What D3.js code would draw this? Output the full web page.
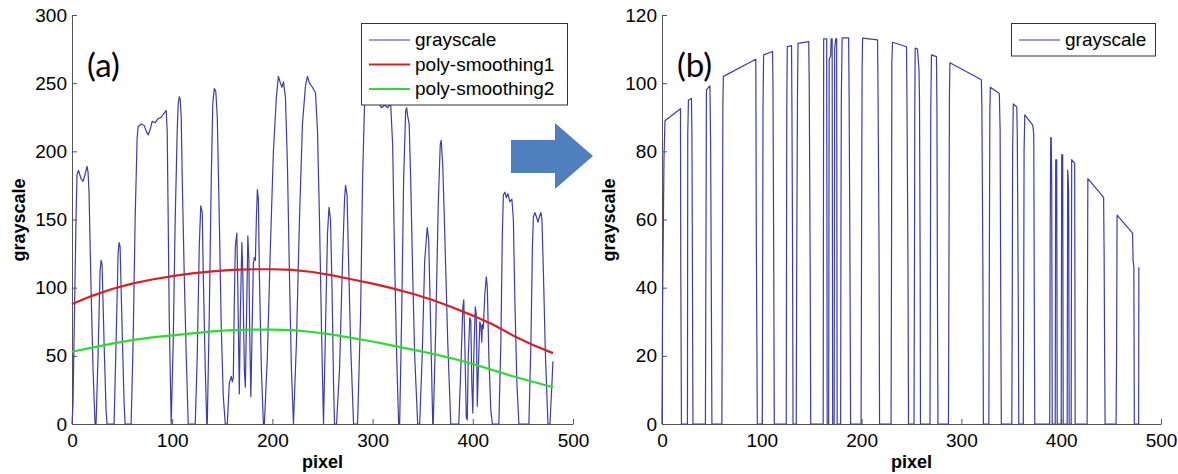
<!DOCTYPE html>
<html>
<head>
<meta charset="utf-8">
<script src="https://cdn.jsdelivr.net/npm/d3@7"></script>
<style>
  body { margin: 0; background: #fff; }
  svg { display: block; font-family: "Liberation Sans", Arial, sans-serif; }
  .axis path, .axis line { stroke: #555; }
  .axis text { font-size: 19px; fill: #000; font-family: "Liberation Sans", Arial, sans-serif; }
</style>
</head>
<body>
<div id="chart"></div>
<script>
// ticks
var xTicks = [0, 100, 200, 300, 400, 500];
var yTicksA = [0, 50, 100, 150, 200, 250, 300];
var yTicksB = [0, 20, 40, 60, 80, 100, 120];

var legendA = ["grayscale", "poly-smoothing1", "poly-smoothing2"];
var legendB = ["grayscale"];

// (a) raw grayscale profile, [pixel, value]
var grayA = [
  [0,0],[1,15],[2,60],[4,150],[5,183],[6.5,186],[9,180],[11,178],[13,183],[15,189],[16,185],[17,170],[19,100],[21,40],[23,0],
  [24,0],[26,50],[28,112],[29,120],[30,117],[32,60],[34,10],[35,0],
  [42,0],[44,60],[46,125],[47,133],[48,130],[50,70],[52,15],[53,0],
  [59,0],[61,60],[63,150],[65,210],[66,218],[69,220],[72,219],[74,215],[76,212],[78,216],[80,222],[83,221],[86,224],[89,225],[92,228],[94,230],[95,215],[96,150],[97,80],[99,0],
  [101,60],[103,150],[105,215],[106,235],[107,240],[108,238],[109,225],[110,180],[112,110],[114,50],[116,0],
  [123,0],[125,50],[127,130],[128.5,160],[130,155],[131,110],[133,40],[134.5,0],
  [135,0],[137,80],[139,180],[140.5,235],[142,246],[143.5,244],[145,225],[147,150],[149,70],[151,20],[153,0],
  [155,0],[157,30],[159,35],[160,31],[161,34],[162,90],[163,130],[164.5,140],[165.5,100],[167,22],[168,80],[169.5,133],[170.5,110],[172,40],[173,27],[174,70],[175.5,138],[176.5,120],[177.5,60],[178.5,20],[179.5,60],[181,118],[182,122],[183,120],[184,150],[185,172],[186,165],[187,110],[189,40],[191,0],
  [192,0],[195,50],[198,130],[201,200],[204,240],[206,255],[208,250],[209.5,247],[211,251],[213,240],[215,190],[217,110],[219,40],[221,0],
  [224,60],[227,150],[230,220],[233,248],[235,255],[237,250],[240,247],[243,243],[245,215],[247,150],[249,70],[251,0],
  [253,70],[255,140],[256.5,159],[258,150],[259.5,100],[261,30],[262,0],
  [264,0],[267,40],[270,120],[272,165],[273,175],[274.5,168],[276,120],[278,60],[281,0],
  [285,0],[288,80],[290,180],[292,235],[294,242],[298,244],[302,240],[306,235],[309,232],[312,234],[315,232],[318,235],[320,205],[322,120],[324,50],[326,0],
  [327,0],[329,80],[331,180],[333,230],[334,232],[335,226],[336.5,220],[338,180],[340,110],[342,50],[345,0],
  [347,0],[349.5,50],[352,120],[354.5,144],[356,135],[358,70],[360,0],
  [360.5,0],[363,70],[365.5,160],[367.5,205],[368.5,208],[370,190],[372,140],[375,60],[378,0],
  [386,0],[388,40],[390,85],[391,91],[392,60],[393.5,5],[394.5,3],[395.5,50],[397,78],[398,76],[399,30],[400,8],[401,50],[402.5,86],[403.5,80],[404.5,13],[405.5,40],[407,75],[408,72],[409,60],[409.5,73],[410.5,70],[412,95],[413.5,108],[414.5,100],[416,50],[418,10],[419.5,0],
  [426,0],[428,60],[429.5,140],[430.5,168],[432,170],[433.5,166],[435,169],[437,163],[439,165],[440.5,150],[442,90],[444,30],[446,0],
  [456,0],[458,60],[459.5,130],[460.5,152],[462,155],[463.5,152],[465,148],[466.5,152],[468,155],[469,150],[470.5,110],[472.5,50],[475,0],
  [477,0],[479,30],[480,46]
];

// polynomial smoothing curves
var poly1 = [
  [0,88],[20,94],[40,99],[60,103],[80,106],[100,108.5],[120,110.5],[140,112],[160,113],[180,113.5],[200,113.5],
  [220,113],[240,111.5],[260,109],[280,106],[300,103],[320,99.5],[340,95.5],[360,91],[380,85.5],[400,79.5],
  [420,73],[440,65],[460,58],[480,52]
];
var poly2 = [
  [0,53],[20,56],[40,59],[60,61.5],[80,63.5],[100,65],[120,66.5],[140,68],[160,68.8],[180,69.2],[200,69.2],
  [220,68.8],[240,67.5],[260,65.5],[280,63],[300,60.5],[320,57.5],[340,54.5],[360,51.5],[380,48],[400,44],
  [420,39.5],[440,35],[460,31],[480,27]
];

// (b) thresholded profile
var grayB = [
  [0,0],[0.5,33],[2,78],[3,89],[18.5,92.5],[18.8,46],[19.5,0],
  [25.5,0],[25.8,85],[26.5,95],[29.5,95.5],[30,84],[30.5,45],[31,0],
  [43.5,0],[44,49],[44.5,98],[48,99.2],[48.7,83],[49.5,34],[50,0],
  [60,0],[60.5,43],[61,94],[61.5,102],[94,107],[94.5,55],[95.5,0],
  [100.5,0],[100.8,39],[101.2,92],[101.8,108.3],[110.8,109.3],[111.2,99],[112,45],[112.5,0],
  [124.5,0],[124.8,54],[125,92],[125.5,110.7],[129.8,111],[130.2,92],[130.8,52],[131.3,0],
  [134.5,0],[135,50],[135.8,99],[136.3,111.7],[147,112.2],[147.5,101],[148.5,45],[149,0],
  [161.5,0],[162,113],[165,113],[165.5,0],
  [167,0],[167.5,107],[169,108],[169.5,113],[170.5,113],[171,0],
  [172.5,0],[173,110],[174,113],[175,113],[175.5,0],
  [179,0],[179.3,57],[179.7,96],[180.5,113.3],[187,113.3],[187.5,96],[188.3,50],[189,0],
  [199.5,0],[200,60],[200.5,104],[201,113.2],[216,112.7],[216.5,96],[217.5,50],[218,0],
  [229.5,0],[230,50],[230.3,106],[231,112],[245,110.7],[245.5,93],[246.5,45],[247,0],
  [252.5,0],[253,50],[253.3,93],[253.7,110.3],[256,110],[257.5,104],[258,95],[258.7,45],[259,0],
  [268.5,0],[269,50],[269.3,92],[270,108.3],[275,107.8],[275.5,92],[276,38],[276.5,0],
  [287,0],[287.5,43],[288,96],[288.5,106],[320,101],[320.5,93.5],[321.5,47],[322,0],
  [327.5,0],[328,47],[328.5,92],[329,98.8],[338,97],[338.8,86],[339.5,30],[340,0],
  [350.5,0],[351,40],[351.3,79.5],[352,93.9],[355.5,93],[356,85],[357,35],[357.5,0],
  [362,0],[362.5,45],[362.8,80],[363.5,90.7],[371.5,87.7],[372.5,85],[373,40],[373.5,0],
  [388.5,0],[389,60],[389.5,84],[390,84],[390.5,70],[391,0],
  [394,0],[394.5,77.5],[395.5,77.5],[396,0],
  [400,0],[400.5,79],[401.5,79],[402,0],
  [406,0],[406.5,74.5],[407,72],[407.5,68],[408,0],
  [410,0],[410.5,77.6],[413.5,76.5],[414,0],
  [426,0],[426.3,34],[426.7,72],[442.5,66.5],[443,50],[443.5,22],[444,0],
  [455,0],[455.5,22],[456,61.3],[471.5,56],[472,48],[472.8,46],[473.3,0],
  [477.6,0],[477.8,46]
];

var width = 1178, height = 474;
var blue = "#3c3cae", red = "#d9201f", green = "#2ddc2d";

var svg = d3.select("#chart").append("svg")
    .attr("width", width)
    .attr("height", height);

function panel(left, right, yMax, yTicks, tag, ylabelX) {
    var x = d3.scaleLinear().domain([0, 500]).range([left, right]);
    var y = d3.scaleLinear().domain([0, yMax]).range([424, 15]);

    svg.append("g")
        .attr("class", "axis")
        .attr("transform", "translate(0,424)")
        .call(d3.axisBottom(x).tickValues(xTicks).tickSizeInner(-5).tickSizeOuter(0).tickPadding(10));

    svg.append("g")
        .attr("class", "axis")
        .attr("transform", "translate(" + left + ",0)")
        .call(d3.axisLeft(y).tickValues(yTicks).tickSizeInner(-5).tickSizeOuter(0).tickPadding(5));

    svg.append("text")
        .attr("x", (left + right) / 2)
        .attr("y", 468)
        .attr("text-anchor", "middle")
        .style("font-weight", "bold")
        .style("font-size", "18px")
        .text("pixel");

    svg.append("text")
        .attr("transform", "translate(" + ylabelX + ",220) rotate(-90)")
        .attr("text-anchor", "middle")
        .style("font-weight", "bold")
        .style("font-size", "18px")
        .text("grayscale");

    svg.append("text")
        .attr("x", left + 15)
        .attr("y", 77)
        .style("font-family", "Lato, 'Open Sans', sans-serif")
        .style("font-size", "33px")
        .text(tag);

    return { x: x, y: y };
}

function drawLine(p, data, color, w) {
    var line = d3.line()
        .x(function(d) { return p.x(d[0]); })
        .y(function(d) { return p.y(d[1]); });
    svg.append("path")
        .datum(data)
        .attr("d", line)
        .attr("fill", "none")
        .attr("stroke", color)
        .attr("stroke-width", w)
        .attr("stroke-linejoin", "round");
}

function legend(x0, y0, w, labels, colors, widths) {
    var g = svg.append("g");
    g.append("rect")
        .attr("x", x0 + 0.5).attr("y", y0 + 0.5)
        .attr("width", w).attr("height", labels.length * 24.5 + 8)
        .attr("fill", "#fff").attr("stroke", "#333");
    labels.forEach(function(l, i) {
        var cy = y0 + 17 + i * 24.5;
        g.append("line")
            .attr("x1", x0 + 8).attr("x2", x0 + 49)
            .attr("y1", cy).attr("y2", cy)
            .attr("stroke", colors[i]).attr("stroke-width", widths[i]);
        g.append("text")
            .attr("x", x0 + 54).attr("y", cy + 6)
            .style("font-size", "19px")
            .text(l);
    });
}

// panel (a)
var pa = panel(72, 573, 300, yTicksA, "(a)", 25);
drawLine(pa, grayA, blue, 1.2);
drawLine(pa, poly1, red, 2.2);
drawLine(pa, poly2, green, 2.2);
legend(361, 23, 206, legendA, [blue, red, green], [1.2, 2.2, 2.2]);

// panel (b)
var pb = panel(662, 1161, 120, yTicksB, "(b)", 615);
drawLine(pb, grayB, blue, 1.2);
legend(1011, 23, 144, legendB, [blue], [1.2]);

// block arrow between the panels
svg.append("path")
    .attr("d", d3.line()([[511, 140], [555, 140], [555, 123], [593, 156], [555, 189], [555, 173], [511, 173]]) + "Z")
    .attr("fill", "#4f80bd");
</script>
</body>
</html>
